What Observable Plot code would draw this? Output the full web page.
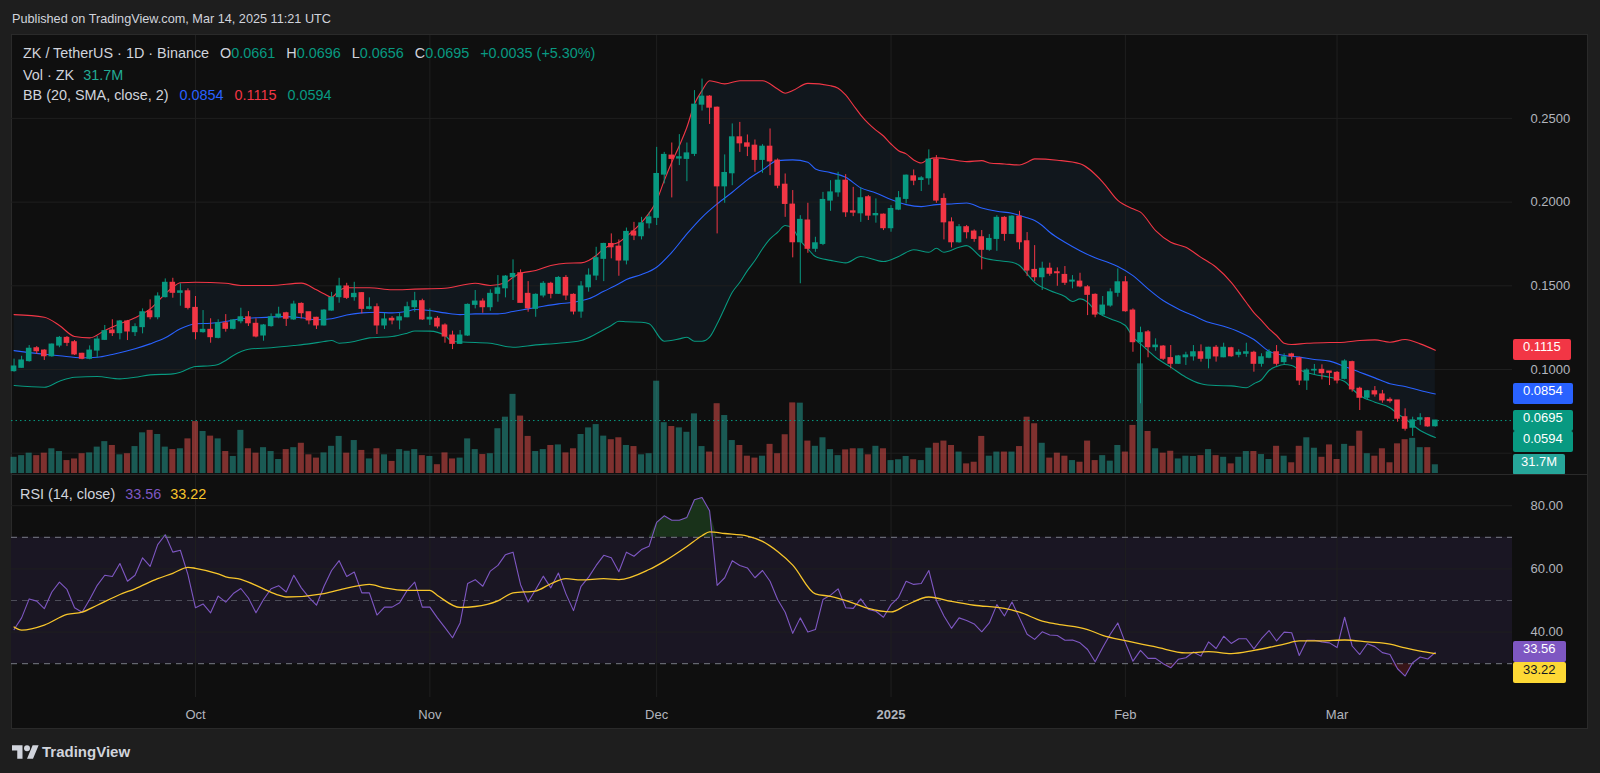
<!DOCTYPE html>
<html><head><meta charset="utf-8">
<script src="https://cdn.jsdelivr.net/npm/d3@7"></script>
<script src="https://cdn.jsdelivr.net/npm/@observablehq/plot@0.6"></script>
<style>
html,body{margin:0;padding:0;background:#1e1e1e;}
#root{position:relative;width:1600px;height:773px;overflow:hidden;background:#1e1e1e;font-family:'Liberation Sans',Arial,sans-serif;}
.layer{position:absolute;left:0;}
.layer svg{display:block;overflow:visible;}
</style></head><body><div id="root"></div>
<script>
// ---------------- DATA ----------------
const startDate = "2024-09-07"; // first daily candle
const opens = [
0.0990,0.1010,0.1050,0.1127,0.1113,0.1079,0.1143,0.1189,0.1163,0.1094,
0.1064,0.1113,0.1177,0.1233,0.1217,0.1287,0.1223,0.1253,0.1348,0.1312,
0.1432,0.1518,0.1458,0.1467,0.1368,0.1223,0.1237,0.1189,0.1276,0.1243,
0.1288,0.1312,0.1273,0.1203,0.1259,0.1312,0.1336,0.1299,0.1392,0.1342,
0.1309,0.1263,0.1352,0.1432,0.1496,0.1432,0.1456,0.1362,0.1372,0.1263,
0.1303,0.1293,0.1312,0.1372,0.1408,0.1299,0.1303,0.1263,0.1203,0.1153,
0.1203,0.1386,0.1406,0.1372,0.1452,0.1485,0.1551,0.1575,0.1452,0.1362,
0.1442,0.1512,0.1452,0.1547,0.1446,0.1346,0.1491,0.1561,0.1661,0.1750,
0.1734,0.1651,0.1824,0.1796,0.1873,0.1906,0.2164,0.2278,0.2260,0.2258,
0.2288,0.2582,0.2630,0.2564,0.2094,0.2172,0.2387,0.2351,0.2337,0.2252,
0.2331,0.2248,0.2104,0.1985,0.1760,0.1890,0.1721,0.1750,0.2009,0.2058,
0.2128,0.1945,0.1933,0.2029,0.1921,0.1925,0.1844,0.1955,0.2019,0.2154,
0.2132,0.2142,0.2254,0.2019,0.1879,0.1760,0.1850,0.1824,0.1790,0.1715,
0.1780,0.1906,0.1810,0.1913,0.1766,0.1595,0.1551,0.1602,0.1581,0.1565,
0.1525,0.1525,0.1491,0.1446,0.1328,0.1382,0.1458,0.1521,0.1352,0.1163,
0.1222,0.1133,0.1137,0.1068,0.1034,0.1073,0.1078,0.1103,0.1064,0.1130,
0.1073,0.1127,0.1088,0.1094,0.1100,0.1034,0.1070,0.1103,0.1044,0.1090,
0.1067,0.0934,0.0994,0.0998,0.0988,0.0980,0.0944,0.1044,0.0885,0.0831,
0.0870,0.0851,0.0819,0.0815,0.0715,0.0652,0.0700,0.0709,0.0661];
const highs = [
0.1062,0.1079,0.1143,0.1137,0.1118,0.1153,0.1197,0.1197,0.1173,0.1097,
0.1141,0.1197,0.1263,0.1297,0.1293,0.1293,0.1273,0.1362,0.1416,0.1458,
0.1541,0.1545,0.1512,0.1482,0.1436,0.1352,0.1303,0.1297,0.1328,0.1297,
0.1366,0.1346,0.1303,0.1269,0.1332,0.1372,0.1342,0.1408,0.1398,0.1342,
0.1312,0.1358,0.1461,0.1545,0.1515,0.1521,0.1460,0.1428,0.1392,0.1336,
0.1316,0.1336,0.1402,0.1461,0.1420,0.1362,0.1316,0.1273,0.1229,0.1233,
0.1392,0.1472,0.1422,0.1476,0.1561,0.1561,0.1655,0.1595,0.1525,0.1452,
0.1525,0.1521,0.1555,0.1561,0.1452,0.1525,0.1601,0.1730,0.1754,0.1810,
0.1774,0.1845,0.1879,0.1909,0.1935,0.2327,0.2297,0.2353,0.2403,0.2353,
0.2666,0.2735,0.2636,0.2568,0.2282,0.2467,0.2476,0.2401,0.2371,0.2343,
0.2437,0.2258,0.2168,0.2069,0.1919,0.1993,0.1790,0.2058,0.2128,0.2178,
0.2164,0.2088,0.2084,0.2039,0.2019,0.1929,0.1979,0.2063,0.2162,0.2192,
0.2152,0.2312,0.2278,0.2049,0.1906,0.1866,0.1860,0.1834,0.1830,0.1806,
0.1919,0.1913,0.1919,0.1945,0.1818,0.1740,0.1641,0.1635,0.1607,0.1615,
0.1561,0.1575,0.1501,0.1452,0.1436,0.1482,0.1601,0.1555,0.1362,0.1253,
0.1233,0.1183,0.1143,0.1143,0.1084,0.1103,0.1143,0.1147,0.1133,0.1143,
0.1157,0.1133,0.1118,0.1157,0.1109,0.1094,0.1118,0.1143,0.1094,0.1097,
0.1073,0.1004,0.1030,0.1028,0.0988,0.0988,0.1058,0.1050,0.0894,0.0875,
0.0898,0.0875,0.0831,0.0815,0.0765,0.0715,0.0736,0.0712,0.0696];
const lows = [
0.0984,0.1008,0.1044,0.1090,0.1054,0.1073,0.1130,0.1137,0.1084,0.1058,
0.1058,0.1070,0.1173,0.1197,0.1177,0.1173,0.1197,0.1213,0.1297,0.1297,
0.1428,0.1426,0.1378,0.1356,0.1177,0.1217,0.1157,0.1183,0.1223,0.1237,
0.1273,0.1257,0.1189,0.1169,0.1253,0.1303,0.1257,0.1293,0.1303,0.1267,
0.1239,0.1259,0.1348,0.1396,0.1418,0.1408,0.1332,0.1356,0.1209,0.1239,
0.1267,0.1237,0.1309,0.1342,0.1293,0.1263,0.1243,0.1157,0.1119,0.1149,
0.1197,0.1362,0.1336,0.1348,0.1402,0.1428,0.1412,0.1396,0.1342,0.1312,
0.1428,0.1422,0.1448,0.1412,0.1326,0.1306,0.1462,0.1531,0.1525,0.1661,
0.1557,0.1625,0.1770,0.1774,0.1840,0.1860,0.2109,0.2025,0.2218,0.2122,
0.2272,0.2544,0.2464,0.1810,0.1993,0.2098,0.2297,0.2272,0.2178,0.2172,
0.2158,0.2080,0.1909,0.1667,0.1512,0.1694,0.1700,0.1740,0.1945,0.2029,
0.1909,0.1913,0.1879,0.1890,0.1874,0.1830,0.1820,0.1949,0.1989,0.2098,
0.2063,0.2101,0.1993,0.1774,0.1726,0.1754,0.1780,0.1760,0.1595,0.1706,
0.1706,0.1766,0.1806,0.1715,0.1555,0.1525,0.1472,0.1557,0.1497,0.1502,
0.1482,0.1488,0.1322,0.1309,0.1322,0.1372,0.1432,0.1342,0.1103,0.0795,
0.1070,0.1109,0.1054,0.1004,0.1030,0.1024,0.1050,0.1044,0.1004,0.1044,
0.1070,0.1073,0.1070,0.1073,0.0984,0.1014,0.1064,0.1020,0.1030,0.1058,
0.0904,0.0875,0.0964,0.0938,0.0904,0.0914,0.0938,0.0865,0.0755,0.0815,
0.0835,0.0799,0.0799,0.0685,0.0632,0.0600,0.0666,0.0654,0.0656];
const closes = [
0.1018,0.1054,0.1124,0.1109,0.1079,0.1149,0.1189,0.1159,0.1090,0.1064,
0.1113,0.1179,0.1229,0.1217,0.1287,0.1227,0.1253,0.1342,0.1312,0.1436,
0.1518,0.1458,0.1467,0.1368,0.1223,0.1237,0.1193,0.1276,0.1243,0.1293,
0.1312,0.1276,0.1197,0.1263,0.1312,0.1328,0.1303,0.1388,0.1336,0.1293,
0.1263,0.1352,0.1428,0.1496,0.1428,0.1452,0.1362,0.1372,0.1263,0.1299,
0.1293,0.1312,0.1372,0.1408,0.1299,0.1309,0.1257,0.1197,0.1153,0.1203,
0.1386,0.1406,0.1372,0.1452,0.1485,0.1555,0.1571,0.1398,0.1366,0.1446,
0.1512,0.1452,0.1547,0.1442,0.1346,0.1496,0.1561,0.1665,0.1750,0.1730,
0.1651,0.1822,0.1800,0.1873,0.1909,0.2168,0.2282,0.2258,0.2268,0.2291,
0.2582,0.2630,0.2564,0.2094,0.2174,0.2387,0.2351,0.2331,0.2252,0.2331,
0.2243,0.2098,0.1989,0.1760,0.1894,0.1721,0.1754,0.2013,0.2058,0.2128,
0.1939,0.1937,0.2023,0.1919,0.1929,0.1844,0.1959,0.2023,0.2158,0.2128,
0.2142,0.2254,0.2009,0.1879,0.1760,0.1850,0.1820,0.1780,0.1715,0.1780,
0.1906,0.1810,0.1913,0.1760,0.1591,0.1551,0.1602,0.1572,0.1575,0.1518,
0.1531,0.1496,0.1446,0.1328,0.1382,0.1461,0.1521,0.1348,0.1163,0.1217,
0.1133,0.1143,0.1064,0.1034,0.1078,0.1084,0.1103,0.1064,0.1130,0.1078,
0.1130,0.1079,0.1100,0.1103,0.1034,0.1073,0.1103,0.1034,0.1073,0.1078,
0.0934,0.0994,0.0998,0.0978,0.0980,0.0934,0.1048,0.0881,0.0831,0.0870,
0.0851,0.0815,0.0811,0.0706,0.0646,0.0696,0.0709,0.0660,0.0695];
const volumesM = [
59,65,74,65,74,90,80,47,53,72,
75,96,116,102,68,72,98,148,157,142,
96,87,90,126,189,153,136,126,80,62,
157,90,74,94,80,51,87,94,110,68,
56,75,99,135,74,120,84,53,90,68,
44,87,81,87,65,62,32,75,53,56,
126,87,69,72,163,205,288,209,135,80,
87,102,104,75,90,142,166,178,136,123,
130,102,98,68,72,336,185,171,166,150,
217,98,78,254,211,120,102,63,56,63,
106,72,141,257,256,118,99,130,87,65,
86,90,90,68,99,90,47,50,62,50,
47,92,110,118,102,78,35,41,135,63,
78,78,78,98,205,181,110,56,74,63,
47,41,118,47,65,45,102,78,175,399,
153,90,74,81,53,63,62,65,87,65,
59,35,59,80,80,69,51,99,63,39,
99,130,92,59,104,51,106,99,154,72,
63,90,39,108,123,128,94,94,31.7];
const rsiValues = [
40.8,44.5,50.5,49.8,47.4,52.7,55.8,53.5,47.7,46.3,
50.3,54.8,58,57.6,61.7,56.1,58,63.5,60.8,67.7,
70.8,65.3,65.9,58.2,47.7,48.9,46.1,51.4,49.5,52.2,
53.8,50.8,46.1,50.3,53.7,54.7,52.7,58,54,51,
48.5,54.5,59.5,62.6,57.6,59,52.4,52.4,45.4,47.9,
47.9,49.3,53.2,55.8,47.9,47.9,44.5,41.4,38.2,42.9,
55.4,56.6,54.5,59.3,61.1,64.5,65.3,55,49.5,53.5,
57.7,54,58.7,52.1,46.8,54.5,57.4,61.1,64.3,63.5,
59.1,65.3,64,66.1,67.2,74.7,76.8,75.4,75.4,76.3,
81.9,82.6,78.4,54.8,57.2,62.6,61.1,60.3,57.2,59.5,
56.1,50.3,46.3,39.6,44.5,40,40.8,50.3,51.7,53.7,
47.7,47.5,50.5,47.2,46.6,44.7,48.7,51,56.1,55.1,
55.4,59.5,50,45.1,41.2,44.5,43.7,42.6,40.1,42.9,
48.7,45.1,49.5,44.5,39.3,37.7,40.1,39.1,38.9,37.4,
37.5,36.6,34.5,30.6,35.1,39.3,42.9,36.6,30.8,34.2,
31.7,31.7,30,28.7,31.4,31.9,33.7,32.4,36.9,34.8,
38.7,36.4,37.9,37.9,34.7,37.9,40.5,37.2,40,39.8,
32.6,37.4,37.4,36.9,36.6,35.1,44.7,35.6,32.9,36.3,
35.4,33.5,32.9,28.4,26.1,30.3,32.1,31.5,33.56];
// [day index, value] samples
const rsiMaPoints = [[0,41.6],[1,40.6],[4,42.2],[7,45.6],[9,46.3],[11,48.5],[14,51.9],[16,53.7],[19,56.9],[21,58.6],[23,60.5],[24,60.2],[27,58.4],[28,57.5],[30,56.7],[33,53.7],[35,51.7],[36,51.1],[41,52.2],[44,53.9],[47,55.1],[49,54],[52,53.2],[55,53.2],[56,51.6],[59,47.8],[61,48.1],[64,49.9],[66,52.4],[69,53],[71,55.3],[73,56.9],[75,56.5],[78,56.9],[80,56.6],[84,59.8],[86,62.4],[89,67.1],[91,70.5],[92,71.7],[94,71.2],[97,70.4],[99,68.7],[101,65.5],[103,61.2],[106,52.1],[108,51.3],[111,49.2],[113,47.5],[116,46.4],[118,48.5],[121,51.1],[124,49.7],[127,48.5],[131,47.5],[133,46.3],[136,43.5],[138,42.5],[142,40.8],[144,39],[147,37.3],[151,35.3],[155,33.4],[158,33.8],[161,33.2],[164,34.2],[168,36.2],[170,37.2],[173,37.2],[176,37.5],[179,36.9],[182,36.2],[184,35],[186,34],[188,33.22]];
const bbUpperPoints = [[0,0.1328],[4,0.1312],[6,0.1263],[8,0.1197],[10,0.1189],[12,0.1233],[14,0.1273],[16,0.1309],[18,0.1362],[20,0.1452],[21,0.1491],[22,0.1518],[24,0.1521],[28,0.1515],[30,0.1502],[34,0.1502],[38,0.1516],[40,0.1476],[41,0.1452],[42,0.1432],[43,0.1472],[44,0.1488],[47,0.1488],[50,0.1476],[53,0.1480],[57,0.1485],[61,0.1515],[63,0.1502],[65,0.1518],[66,0.1551],[67,0.1575],[69,0.1591],[71,0.1621],[73,0.1635],[75,0.1637],[76,0.1651],[77,0.1681],[78,0.1721],[79,0.1745],[80,0.1760],[81,0.1795],[83,0.1879],[85,0.2009],[86,0.2128],[87,0.2238],[88,0.2337],[89,0.2447],[90,0.2586],[91,0.2666],[92,0.2725],[94,0.2706],[96,0.2725],[99,0.2725],[101,0.2676],[102,0.2650],[103,0.2666],[105,0.2709],[108,0.2695],[109,0.2680],[110,0.2640],[111,0.2580],[112,0.2520],[113,0.2470],[114,0.2430],[115,0.2395],[116,0.2347],[117,0.2307],[118,0.2288],[119,0.2252],[120,0.2234],[121,0.2258],[122,0.2264],[124,0.2254],[126,0.2242],[128,0.2248],[129,0.2234],[131,0.2228],[133,0.2222],[134,0.2238],[135,0.2258],[138,0.2250],[141,0.2229],[144,0.2120],[146,0.2010],[148,0.1960],[149,0.1940],[151,0.1830],[153,0.1760],[155,0.1730],[157,0.1670],[159,0.1611],[161,0.1521],[163,0.1400],[164,0.1340],[165,0.1293],[166,0.1243],[167,0.1203],[168,0.1157],[169,0.1149],[171,0.1157],[174,0.1161],[176,0.1163],[178,0.1173],[180,0.1177],[182,0.1163],[184,0.1179],[186,0.1153],[188,0.1115]];
const bbBasisPoints = [[0,0.1113],[4,0.1091],[6,0.1082],[9,0.1070],[11,0.1073],[13,0.1090],[16,0.1124],[18,0.1153],[20,0.1189],[22,0.1243],[24,0.1273],[26,0.1276],[28,0.1287],[30,0.1303],[32,0.1309],[36,0.1316],[38,0.1309],[40,0.1297],[42,0.1303],[44,0.1326],[46,0.1338],[48,0.1342],[50,0.1338],[52,0.1348],[53,0.1358],[55,0.1352],[57,0.1338],[59,0.1328],[61,0.1332],[64,0.1332],[66,0.1346],[68,0.1362],[70,0.1378],[72,0.1392],[74,0.1402],[76,0.1422],[78,0.1467],[80,0.1512],[81,0.1538],[83,0.1567],[85,0.1611],[87,0.1700],[89,0.1810],[91,0.1909],[93,0.1989],[95,0.2059],[97,0.2133],[99,0.2192],[101,0.2248],[103,0.2252],[105,0.2238],[106,0.2198],[108,0.2176],[110,0.2148],[112,0.2085],[114,0.2055],[116,0.2015],[118,0.1985],[120,0.1973],[122,0.1985],[124,0.1989],[126,0.1995],[128,0.1965],[130,0.1945],[132,0.1933],[134,0.1906],[135,0.1890],[136,0.1860],[137,0.1820],[139,0.1760],[141,0.1710],[143,0.1667],[145,0.1635],[146,0.1615],[148,0.1561],[150,0.1482],[152,0.1412],[154,0.1362],[156,0.1322],[158,0.1282],[160,0.1258],[162,0.1226],[164,0.1179],[166,0.1109],[168,0.1084],[170,0.1074],[172,0.1060],[174,0.1050],[176,0.1018],[178,0.0984],[180,0.0950],[182,0.0915],[184,0.0898],[186,0.0875],[188,0.0854]];
const bbLowerPoints = [[0,0.0904],[4,0.0894],[6,0.0930],[8,0.0954],[11,0.0958],[14,0.0944],[16,0.0954],[18,0.0968],[21,0.0974],[22,0.0984],[24,0.1018],[26,0.1022],[27,0.1030],[28,0.1054],[29,0.1084],[31,0.1121],[34,0.1130],[37,0.1143],[39,0.1153],[41,0.1167],[42,0.1173],[43,0.1157],[45,0.1167],[47,0.1189],[50,0.1197],[52,0.1217],[53,0.1230],[55,0.1229],[57,0.1203],[58,0.1167],[60,0.1163],[63,0.1157],[66,0.1133],[69,0.1147],[72,0.1157],[75,0.1173],[77,0.1213],[79,0.1263],[80,0.1288],[81,0.1285],[83,0.1282],[84,0.1273],[86,0.1169],[88,0.1183],[89,0.1193],[90,0.1169],[91,0.1169],[92,0.1193],[93,0.1273],[94,0.1368],[95,0.1461],[96,0.1521],[97,0.1591],[98,0.1651],[99,0.1721],[100,0.1780],[101,0.1820],[102,0.1860],[103,0.1840],[104,0.1770],[105,0.1721],[106,0.1675],[108,0.1652],[110,0.1637],[112,0.1675],[115,0.1645],[117,0.1675],[119,0.1715],[121,0.1700],[122,0.1724],[123,0.1700],[125,0.1730],[126,0.1740],[128,0.1670],[130,0.1651],[132,0.1641],[133,0.1621],[134,0.1571],[135,0.1521],[137,0.1472],[139,0.1436],[140,0.1406],[141,0.1422],[142,0.1402],[143,0.1352],[145,0.1303],[147,0.1263],[148,0.1193],[149,0.1153],[150,0.1113],[151,0.1073],[153,0.1014],[155,0.0954],[157,0.0915],[159,0.0904],[161,0.0902],[163,0.0891],[164,0.0915],[165,0.0939],[166,0.0994],[167,0.1018],[168,0.1030],[169,0.1024],[170,0.0998],[172,0.0970],[174,0.0954],[176,0.0928],[177,0.0884],[178,0.0845],[180,0.0805],[182,0.0772],[183,0.0736],[184,0.0706],[186,0.0636],[188,0.0594]];
const monthTicks = ["2024-10-01","2024-11-01","2024-12-01","2025-01-01","2025-02-01","2025-03-01"];
const monthLabels = ["Oct","Nov","Dec","2025","Feb","Mar"];
const priceTicks = [0.10,0.15,0.20,0.25];
const priceGrid = [0.05,0.10,0.15,0.20,0.25];
const rsiTicks = [40,60,80];
const rsiBands = {upper:70, middle:50, lower:30};

// ---------------- SETUP ----------------
const FONT = "'Liberation Sans', Arial, sans-serif";
const UP = "#089981", DOWN = "#f23645", BLUE = "#2962ff";
const VOL_UP = "rgba(38,166,154,0.5)", VOL_DOWN = "rgba(239,83,80,0.5)";
const GRID = "#1f1f1f", TEXT = "#d1d4dc", AXIS = "#b2b5be";
const DAY = 864e5, T0 = Date.parse(startDate + "T00:00:00Z");
const dateOf = i => new Date(T0 + i * DAY);
const N = closes.length;
const candles = opens.map((o, i) => ({date: dateOf(i), o, h: highs[i], l: lows[i], c: closes[i], v: volumesM[i], r: rsiValues[i], up: closes[i] >= o}));
const pts = arr => arr.map(([i, v]) => ({date: dateOf(i), v}));
const bbU = pts(bbUpperPoints), bbM = pts(bbBasisPoints), bbL = pts(bbLowerPoints), rsiMa = pts(rsiMaPoints);
const months = monthTicks.map(s => new Date(s + "T00:00:00Z"));
const monthLabel = d => monthLabels[months.findIndex(m => +m === +d)];
const half = 0.37 * DAY;

const X = {type: "utc", domain: [dateOf(0), dateOf(N - 1)], range: [13.56, 1434.84]};
const common = {width: 1600, marginLeft: 11, marginRight: 88, marginTop: 0, marginBottom: 0,
  style: {background: "none", fontFamily: FONT, fontSize: "13px", color: AXIS, overflow: "visible"}};
const root = document.getElementById("root");

function addDiv(style, html) {
  const d = document.createElement("div");
  Object.assign(d.style, {position: "absolute"}, style);
  if (html != null) d.innerHTML = html;
  root.appendChild(d);
  return d;
}
function layer(top, plot) {
  const d = document.createElement("div");
  d.className = "layer"; d.style.top = top + "px";
  d.appendChild(plot); root.appendChild(d);
  return plot;
}

// header + panel
addDiv({left: "12px", top: "11px", font: `12.7px ${FONT}`, lineHeight: "16px", color: TEXT, whiteSpace: "nowrap"}, "Published on TradingView.com, Mar 14, 2025 11:21 UTC");
addDiv({left: "11px", top: "34px", width: "1575px", height: "693px", background: "#0f0f0f", border: "1px solid #2a2a2a"});

// ---------------- PRICE PANE ----------------
const PANE_TOP = 35, PANE_H = 439;
const PY = {domain: [0.10, 0.25], range: [334, 82.9]};

layer(PANE_TOP, Plot.plot({...common, height: PANE_H, x: {...X, axis: null}, y: {...PY, axis: null},
  marks: [
    Plot.areaY(bbU, {x: "date", y1: 0, y2: "v", fill: "#11171d", curve: "monotone-x", clip: true}),
    Plot.areaY(bbL, {x: "date", y1: 0, y2: "v", fill: "#0f0f0f", curve: "monotone-x", clip: true}),
    Plot.ruleX(months, {stroke: GRID}),
    Plot.ruleY(priceGrid, {stroke: GRID})
  ]}));

const volPlot = layer(PANE_TOP, Plot.plot({...common, height: PANE_H, x: {...X, axis: null},
  y: {domain: [0, 400], range: [438, 328.1], axis: null},
  marks: [
    Plot.rect(candles, {x1: d => new Date(+d.date - 0.4 * DAY), x2: d => new Date(+d.date + 0.4 * DAY), y1: 0, y2: "v", fill: d => d.up ? VOL_UP : VOL_DOWN})
  ]}));

const last = candles[N - 1];
const pricePlot = layer(PANE_TOP, Plot.plot({...common, height: PANE_H, x: {...X, axis: null}, y: PY,
  marks: [
    Plot.line(bbM, {x: "date", y: "v", stroke: BLUE, strokeWidth: 1.1, curve: "monotone-x"}),
    Plot.line(bbU, {x: "date", y: "v", stroke: DOWN, strokeWidth: 1.1, curve: "monotone-x"}),
    Plot.line(bbL, {x: "date", y: "v", stroke: UP, strokeWidth: 1.1, curve: "monotone-x"}),
    Plot.ruleY([last.c], {stroke: UP, strokeDasharray: "1.5,3", strokeWidth: 1}),
    Plot.ruleX(candles, {x: "date", y1: "l", y2: "h", stroke: d => d.up ? UP : DOWN, strokeWidth: 1}),
    Plot.rect(candles, {x1: d => new Date(+d.date - half), x2: d => new Date(+d.date + half),
      y1: d => Math.min(d.o, d.c), y2: d => Math.max(d.o, d.c), fill: d => d.up ? UP : DOWN, insetTop: -0.5, insetBottom: -0.5}),
    Plot.axisY(priceTicks, {anchor: "right", tickSize: 0, tickPadding: 18, tickFormat: d3.format(".4f"), label: null, fill: AXIS, fontSize: 13})
  ]}));

// price-scale value boxes (positions from the plot's own scales)
const py = v => PANE_TOP + pricePlot.scale("y").apply(v);
const vy = v => PANE_TOP + volPlot.scale("y").apply(v);
const lastU = bbUpperPoints[bbUpperPoints.length - 1][1];
const lastM = bbBasisPoints[bbBasisPoints.length - 1][1];
const lastL = bbLowerPoints[bbLowerPoints.length - 1][1];
const fmt4 = d3.format(".4f");
function boxes(list) {
  list.sort((a, b) => a.y - b.y);
  let prevBottom = -1e9;
  for (const b of list) {
    let top = b.y - 10.5;
    if (top < prevBottom) top = prevBottom;
    prevBottom = top + 21;
    addDiv({left: "1513px", top: top + "px", height: "21px", lineHeight: "21px", padding: b.pad || "0 10px",
      background: b.bg, color: b.fg || "#ffffff", font: `13px ${FONT}`, borderRadius: "2px", whiteSpace: "nowrap"}, b.text);
  }
}
boxes([
  {y: py(lastU), text: fmt4(lastU), bg: DOWN},
  {y: py(lastM), text: fmt4(lastM), bg: BLUE},
  {y: py(last.c), text: fmt4(last.c), bg: UP},
  {y: py(lastL), text: fmt4(lastL), bg: UP},
  {y: vy(last.v), text: last.v + "M", bg: "#26a69a", pad: "0 8px"}
]);

// legend
const prev = candles[N - 2];
const chg = last.c - prev.c;
const vcol = last.up ? UP : DOWN;
const sp = (t, c, ml) => `<span style="color:${c};margin-left:${ml || 0}px">${t}</span>`;
const legendStyle = cy => ({left: "23px", top: (cy - 9) + "px", font: `14.4px ${FONT}`, lineHeight: "18px", color: TEXT, whiteSpace: "nowrap"});
addDiv(legendStyle(53.3),
  sp("ZK / TetherUS · 1D · Binance", TEXT) +
  sp("O", TEXT, 11) + sp(fmt4(last.o), vcol) +
  sp("H", TEXT, 11) + sp(fmt4(last.h), vcol) +
  sp("L", TEXT, 11) + sp(fmt4(last.l), vcol) +
  sp("C", TEXT, 11) + sp(fmt4(last.c), vcol) +
  sp(`${chg >= 0 ? "+" : ""}${fmt4(chg)} (${chg >= 0 ? "+" : ""}${(chg / prev.c * 100).toFixed(2)}%)`, vcol, 11));
addDiv(legendStyle(75), sp("Vol · ZK", TEXT) + sp(last.v + "M", "#22ab94", 9));
addDiv(legendStyle(95), sp("BB (20, SMA, close, 2)", TEXT) + sp(fmt4(lastM), BLUE, 11) + sp(fmt4(lastU), DOWN, 11) + sp(fmt4(lastL), UP, 11));

// pane separator
addDiv({left: "12px", top: "474px", width: "1575px", height: "1px", background: "#2a2a2a"});

// ---------------- RSI PANE ----------------
const RSI_TOP = 475;
const RY = {domain: [30, 70], range: [188.2, 61.8]};
const rsiPlot = layer(RSI_TOP, Plot.plot({...common, height: 253, marginBottom: 31, x: X, y: RY,
  marks: [
    Plot.rect([0], {y1: rsiBands.lower, y2: rsiBands.upper, fill: "#1a1623"}),
    Plot.ruleX(months, {stroke: GRID}),
    Plot.ruleY(rsiTicks, {stroke: GRID}),
    Plot.areaY(candles, {x: "date", y1: rsiBands.upper, y2: d => Math.max(d.r, rsiBands.upper), fill: "#2e7d32", fillOpacity: 0.32}),
    Plot.areaY(candles, {x: "date", y1: d => Math.min(d.r, rsiBands.lower), y2: rsiBands.lower, fill: "#b22833", fillOpacity: 0.25}),
    Plot.ruleY([rsiBands.upper, rsiBands.lower], {stroke: "#787b86", strokeDasharray: "6,5", strokeWidth: 1}),
    Plot.ruleY([rsiBands.middle], {stroke: "rgba(120,123,134,0.55)", strokeDasharray: "6,5", strokeWidth: 1}),
    Plot.line(candles, {x: "date", y: "r", stroke: "#7e57c2", strokeWidth: 1.1}),
    Plot.line(rsiMa, {x: "date", y: "v", stroke: "#f7c52b", strokeWidth: 1.3, curve: "monotone-x"}),
    Plot.axisY(rsiTicks, {anchor: "right", tickSize: 0, tickPadding: 18, tickFormat: d3.format(".2f"), label: null, fill: AXIS, fontSize: 13}),
    Plot.axisX(months, {anchor: "bottom", tickSize: 0, tickPadding: 12, tickFormat: monthLabel, label: null, fill: AXIS, fontSize: 13})
  ]}));
rsiPlot.querySelectorAll("text").forEach(t => { if (t.textContent === "2025") t.setAttribute("font-weight", "bold"); });

const ry = v => RSI_TOP + rsiPlot.scale("y").apply(v);
const lastRsi = rsiValues[N - 1], lastMa = rsiMaPoints[rsiMaPoints.length - 1][1];
boxes([
  {y: ry(lastRsi), text: lastRsi.toFixed(2), bg: "#7e57c2"},
  {y: ry(lastMa), text: lastMa.toFixed(2), bg: "#fdd835", fg: "#131722"}
]);
addDiv({left: "20px", top: (494 - 9) + "px", font: `14.4px ${FONT}`, lineHeight: "18px", color: TEXT, whiteSpace: "nowrap"},
  sp("RSI (14, close)", TEXT) + sp(lastRsi.toFixed(2), "#7e57c2", 10) + sp(lastMa.toFixed(2), "#f7c52b", 9));

// footer logo
addDiv({left: "12px", top: "745px", width: "28px", height: "14px"},
  `<svg width="27" height="14" viewBox="0 4 36 18"><path d="M14 22H7V11H0V4h14v18zM28 22h-8l7.5-18h8L28 22z" fill="${TEXT}"/><circle cx="20" cy="8" r="4" fill="${TEXT}"/></svg>`);
addDiv({left: "42px", top: "743px", font: `bold 15px ${FONT}`, lineHeight: "18px", color: TEXT, whiteSpace: "nowrap"}, "TradingView");
</script></body></html>
